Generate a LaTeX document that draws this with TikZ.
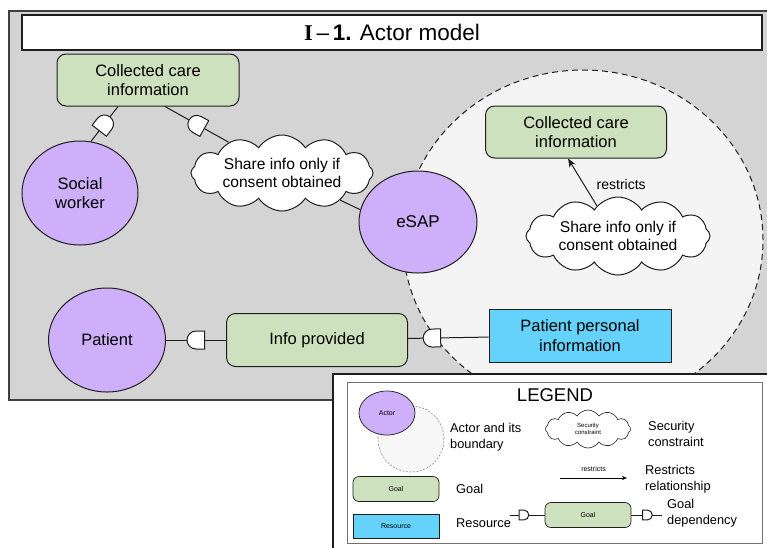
\documentclass[tikz,border=0pt]{standalone}
\usepackage{fontspec}
\setmainfont{Liberation Sans}
\newfontfamily\serifb{Liberation Serif}
\usetikzlibrary{shapes.geometric,shapes.symbols,arrows.meta}
\definecolor{bgc}{RGB}{212,212,212}
\definecolor{bndc}{RGB}{244,244,244}
\definecolor{actorc}{RGB}{206,176,250}
\definecolor{goalc}{RGB}{206,225,190}
\definecolor{resc}{RGB}{100,210,250}
\definecolor{linec}{RGB}{30,30,30}
\tikzset{
  actor/.style={ellipse, draw=linec, fill=actorc, line width=1pt, inner sep=0pt, align=center, font=\fontsize{16.5}{19.5}\selectfont},
  goal/.style={rectangle, rounded corners=9pt, draw=linec, fill=goalc, line width=1pt, inner sep=0pt, align=center, font=\fontsize{16.5}{19.5}\selectfont},
  resource/.style={rectangle, draw=linec, fill=resc, line width=1pt, inner sep=0pt, align=center, font=\fontsize{16.5}{19.5}\selectfont},
  sccloud/.style={cloud, cloud puffs=12, cloud puff arc=115, cloud ignores aspect, draw=linec, fill=white, line width=1pt, inner sep=0pt, align=center, font=\fontsize{15.6}{18}\selectfont},
  conn/.style={draw=linec, line width=1pt},
  depsym/.style={pos=.5, sloped, allow upside down},
  legtext/.style={anchor=west, align=left, inner sep=0pt, font=\fontsize{12.8}{15.5}\selectfont},
  tiny/.style={font=\fontsize{7}{8}\selectfont},
  dep/.pic={\filldraw[fill=white, draw=linec, line width=1pt] (8.5,-9) -- (0,-9) arc(270:90:9) -- (8.5,9) -- cycle;}
}
\begin{document}
\begin{tikzpicture}[x=1pt,y=1pt]
\clip (0,0) rectangle (767,-547);
% background frame
\draw[fill=bgc, draw=black!75, line width=1.3pt] (9,-11) rectangle (800,-400);
\node[draw=linec, fill=white, line width=1.2pt, minimum width=740pt, minimum height=35pt, inner sep=0pt, font=\fontsize{22.5}{26}\selectfont] (title) at (392,-32.5) {{\serifb\bfseries I}\,–\,{\bfseries 1.} Actor model};
% actor boundary
\draw[fill=bndc, draw=linec, line width=1pt, dash pattern=on 6pt off 4pt] (583,-240) ellipse [x radius=180, y radius=170];

% nodes
\node[goal, minimum width=182pt, minimum height=52pt] (cci1) at (148,-80) {Collected care\\information};
\node[actor, minimum width=116pt, minimum height=104pt] (sw) at (80,-193) {Social\\worker};
\node[sccloud, minimum width=182pt, minimum height=76pt] (cloud1) at (282,-173) {Share info only if\\consent obtained};
\node[actor, minimum width=118pt, minimum height=102pt, font=\fontsize{17}{20}\selectfont] (esap) at (418,-222) {eSAP};
\node[goal, minimum width=181pt, minimum height=52pt] (cci2) at (576,-132) {Collected care\\information};
\node[sccloud, minimum width=184pt, minimum height=78pt] (cloud2) at (618,-236) {Share info only if\\consent obtained};
\node[resource, minimum width=182pt, minimum height=53pt] (ppi) at (580,-335.5) {Patient personal\\information};
\node[actor, minimum width=117pt, minimum height=104pt] (patient) at (107,-340) {Patient};
\node[goal, minimum width=181pt, minimum height=53pt] (info) at (317,-340) {Info provided};

% connectors
\draw[conn] ([xshift=-30pt]cci1.south) -- pic[depsym]{dep} (sw.78);
\draw[conn] ([xshift=17pt]cci1.south) -- pic[depsym]{dep} (cloud1.150);
\draw[conn] (cloud1.-25) -- (esap.168);
\draw[conn] (patient) -- pic[depsym]{dep} (info);
\draw[conn] (info) -- pic[depsym, pos=.3]{dep} (ppi);
\draw[conn, -{Stealth[length=9pt, width=7pt]}] (cloud2.125) -- node[pos=.45, right=9pt, font=\fontsize{14}{16}\selectfont] {restricts} ([xshift=-8pt]cci2.south);

% legend
\draw[fill=white, draw=linec, line width=1.2pt] (333,-374) rectangle (800,-600);
\draw[draw=black!55, line width=0.9pt] (347,-382) rectangle (762,-543);
\node[font=\fontsize{18.5}{21}\selectfont] (legtitle) at (555,-395) {LEGEND};
\draw[fill=black!3, draw=black!40, dash pattern=on 2pt off 1.5pt, line width=0.7pt] (411,-439) circle [radius=33];
\node[actor, minimum width=56pt, minimum height=44pt, line width=0.7pt, font=\fontsize{7}{8}\selectfont] (lactor) at (387,-413) {Actor};
\node[legtext] (lactt) at (450,-437) {Actor and its\\boundary};
\node[sccloud, minimum width=85pt, minimum height=38pt, line width=0.6pt, font=\fontsize{6}{7}\selectfont] (lcloud) at (588,-429) {Security\\constraint};
\node[legtext] (lcloudt) at (648,-434) {Security\\constraint};
\coordinate (ra) at (560,-478);
\coordinate (rb) at (627,-478);
\draw[line width=0.7pt, -{Stealth[length=5pt, width=4pt]}] (ra) -- node[above=3pt, tiny] {restricts} (rb);
\node[legtext] (lrt) at (645,-479) {Restricts\\relationship};
\node[goal, minimum width=86pt, minimum height=25pt, line width=0.7pt, rounded corners=6pt, font=\fontsize{7}{8}\selectfont] (lgoal) at (396,-489) {Goal};
\node[legtext] (lgoalt) at (456,-489) {Goal};
\node[resource, minimum width=86pt, minimum height=24pt, line width=0.7pt, font=\fontsize{7}{8}\selectfont] (lres) at (396,-526) {Resource};
\node[legtext] (lrest) at (456,-523) {Resource};
\node[goal, minimum width=86pt, minimum height=25pt, line width=0.7pt, rounded corners=6pt, font=\fontsize{7}{8}\selectfont] (lgoal2) at (588,-515) {Goal};
\coordinate (da) at (510,-515);
\coordinate (db) at (662,-515);
\draw[conn, line width=0.7pt] (lgoal2) -- pic[depsym, pos=.6, scale=0.55]{dep} (da);
\draw[conn, line width=0.7pt] (db) -- pic[depsym, pos=.48, scale=0.55]{dep} (lgoal2);
\node[legtext] (ldept) at (667,-513) {Goal\\dependency};
\end{tikzpicture}
\end{document}
